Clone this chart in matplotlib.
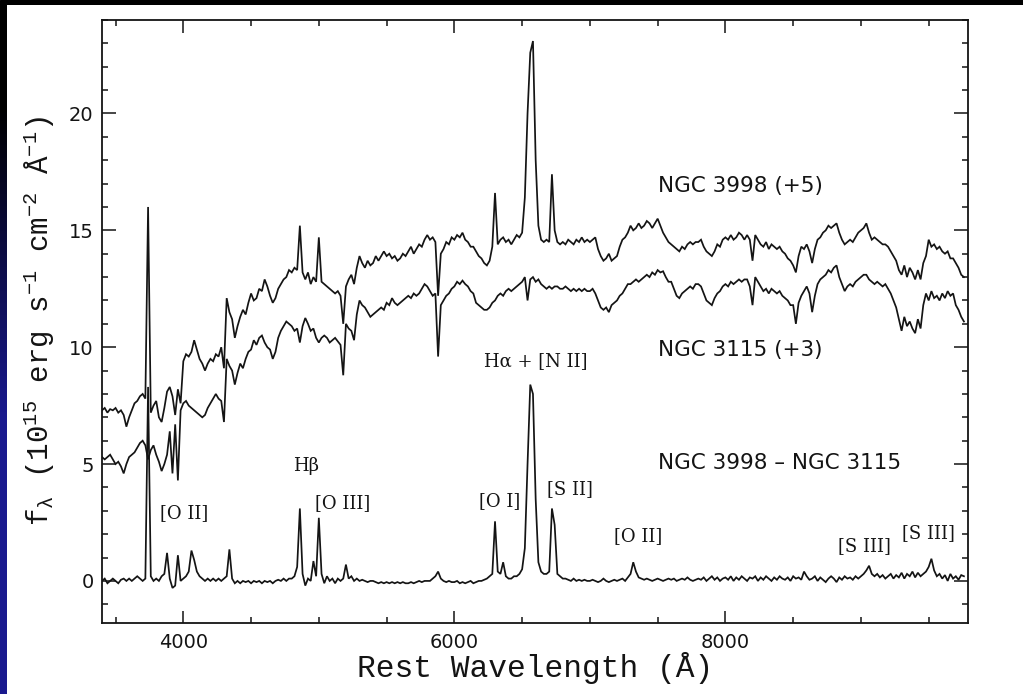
import numpy as np
import matplotlib
matplotlib.use("Agg")
import matplotlib.pyplot as plt
from matplotlib.ticker import FixedLocator, MultipleLocator

# ---------------- data ----------------
# common sampling grid of the spectra, 20 Angstrom steps
wavelength = np.arange(3400, 9761, 20)

ngc3998_plus5 = [
    7.3, 7.4, 7.2, 7.35, 7.3, 7.4, 7.2, 7.3, 7.1, 6.6,
    7.0, 7.3, 7.6, 7.7, 7.9, 8.0, 7.8, 16.0, 7.2, 7.5,
    7.7, 7.0, 6.8, 7.4, 8.1, 8.3, 7.9, 7.1, 8.2, 7.6,
    9.4, 9.7, 9.6, 9.8, 10.3, 9.9, 9.5, 9.3, 9.0, 9.3,
    9.5, 9.4, 9.7, 9.6, 10.0, 9.1, 12.1, 11.5, 11.2, 10.4,
    10.9, 11.3, 11.6, 11.4, 11.9, 12.3, 12.0, 12.1, 12.5, 12.4,
    12.9, 12.6, 12.2, 11.9, 12.1, 12.5, 12.7, 12.9, 13.0, 13.3,
    13.2, 13.4, 13.3, 15.2, 13.2, 12.9, 13.2, 12.7, 13.0, 12.8,
    14.7, 12.8, 12.7, 12.6, 12.5, 12.4, 12.3, 12.4, 12.2, 11.0,
    12.6, 12.9, 13.1, 12.7, 13.4, 13.9, 13.6, 13.4, 13.7, 13.5,
    13.6, 13.9, 13.7, 13.9, 14.1, 13.9, 14.0, 13.8, 13.9, 13.7,
    13.8, 14.0, 13.9, 14.1, 14.3, 14.0, 14.2, 14.4, 14.3, 14.6,
    14.8, 14.6, 14.7, 14.5, 12.2, 14.0, 14.2, 14.5, 14.4, 14.7,
    14.6, 14.8, 14.7, 14.9, 14.6, 14.5, 14.3, 14.3, 14.1, 13.9,
    13.8, 13.6, 13.5, 13.7, 14.3, 16.6, 14.4, 14.6, 14.7, 14.5,
    14.6, 14.4, 14.6, 14.8, 14.7, 14.9, 16.4, 20.0, 22.6, 23.1,
    18.0, 15.2, 14.6, 14.5, 14.6, 14.5, 17.4, 15.0, 14.5, 14.4,
    14.5, 14.4, 14.6, 14.5, 14.4, 14.6, 14.5, 14.7, 14.5, 14.6,
    14.5, 14.6, 14.7, 14.2, 13.9, 13.7, 13.8, 14.0, 13.7, 13.8,
    13.9, 14.3, 14.6, 14.7, 14.9, 15.2, 15.0, 15.1, 15.3, 15.1,
    15.2, 15.4, 15.3, 15.1, 15.3, 15.5, 15.2, 14.9, 14.7, 14.5,
    14.4, 14.3, 14.2, 14.1, 14.3, 14.2, 14.4, 14.5, 14.4, 14.5,
    14.5, 14.6, 14.3, 14.1, 14.0, 13.9, 14.1, 14.4, 14.3, 14.6,
    14.7, 14.6, 14.8, 14.6, 14.7, 14.9, 14.8, 14.6, 14.8, 14.6,
    13.7, 14.8, 14.6, 14.4, 14.3, 14.5, 14.2, 14.4, 14.3, 14.2,
    14.3, 14.1, 14.0, 13.8, 13.7, 13.5, 13.2, 13.9, 14.3, 14.2,
    14.4, 14.1, 13.6, 14.2, 14.6, 14.7, 14.9, 15.0, 15.2, 15.1,
    15.2, 15.3, 14.9, 14.6, 14.4, 14.5, 14.6, 14.5, 14.7, 14.9,
    15.0, 15.1, 15.3, 14.9, 14.6, 14.7, 14.6, 14.5, 14.4, 14.4,
    14.3, 14.1, 13.9, 13.7, 13.3, 13.1, 13.5, 13.0, 13.4, 13.2,
    12.9, 13.3, 12.9, 13.6, 13.9, 14.6, 14.3, 14.4, 14.2, 14.3,
    14.1, 14.0, 14.1, 13.8, 13.8, 13.6, 13.4, 13.1, 13.0,
]

ngc3115_plus3 = [
    5.3, 5.2, 5.3, 5.4, 5.2, 5.0, 5.1, 4.9, 4.6, 5.0,
    5.3, 5.4, 5.5, 5.7, 5.9, 6.0, 5.8, 5.2, 5.6, 5.8,
    5.4, 5.1, 4.7, 5.0, 5.4, 6.4, 4.6, 6.7, 4.3, 7.3,
    7.6, 7.7, 7.5, 7.4, 7.3, 7.2, 7.1, 7.0, 7.1, 7.4,
    7.6, 7.8, 8.0, 7.8, 7.7, 6.8, 9.5, 9.2, 9.0, 8.4,
    8.9, 9.3, 9.1, 9.5, 9.8, 9.9, 10.3, 10.1, 10.4, 10.5,
    10.2, 10.0, 9.9, 9.5, 9.8, 10.4, 10.7, 10.9, 11.1, 11.0,
    10.9, 10.7, 10.8, 10.2, 10.9, 11.25, 11.0, 10.7, 10.8, 10.4,
    10.2, 10.4, 10.5, 10.4, 10.2, 10.3, 10.4, 10.25, 10.1, 8.8,
    11.0, 10.8, 10.7, 10.3, 11.4, 12.0, 11.8, 11.7, 11.5, 11.3,
    11.4, 11.5, 11.6, 11.7, 11.6, 11.9, 11.8, 12.1, 11.9, 11.8,
    11.9, 12.0, 12.1, 12.2, 12.1, 12.3, 12.2, 12.3, 12.5, 12.7,
    12.6, 12.4, 12.2, 12.3, 9.6, 11.8, 12.0, 12.2, 12.3, 12.5,
    12.6, 12.8, 12.7, 12.85, 12.7, 12.6, 12.4, 12.3, 11.9, 11.8,
    11.7, 11.6, 11.6, 11.7, 11.9, 12.0, 12.2, 12.3, 12.2, 12.4,
    12.5, 12.4, 12.5, 12.6, 12.7, 12.8, 13.0, 12.0, 12.9, 13.0,
    12.8, 12.9, 12.7, 12.6, 12.5, 12.6, 12.5, 12.6, 12.6, 12.5,
    12.5, 12.6, 12.5, 12.4, 12.5, 12.4, 12.5, 12.4, 12.5, 12.4,
    12.4, 12.5, 12.3, 12.0, 11.7, 11.6, 11.7, 11.5, 11.8, 11.9,
    12.0, 12.2, 12.3, 12.5, 12.7, 12.7, 12.8, 12.9, 12.8, 12.9,
    13.0, 13.1, 13.0, 13.2, 13.1, 13.3, 13.2, 13.25, 13.0, 12.8,
    12.8, 12.5, 12.2, 12.1, 12.3, 12.4, 12.5, 12.6, 12.5, 12.7,
    12.7, 12.6, 12.3, 12.0, 11.9, 11.8, 12.1, 12.3, 12.4, 12.6,
    12.7, 12.6, 12.8, 12.7, 12.8, 12.9, 12.8, 12.9, 12.9, 12.6,
    11.8, 13.0, 12.8, 12.6, 12.4, 12.5, 12.3, 12.5, 12.4, 12.3,
    12.4, 12.2, 12.1, 12.0, 11.8, 11.8, 11.0, 11.9, 12.2, 12.4,
    12.6, 12.3, 11.5, 12.2, 12.7, 12.9, 13.0, 13.1, 13.3, 13.2,
    13.4, 13.5, 13.0, 12.7, 12.4, 12.6, 12.7, 12.6, 12.8, 12.9,
    13.0, 13.1, 13.1, 12.9, 12.8, 12.7, 12.8, 12.7, 12.6, 12.7,
    12.5, 12.3, 12.0, 11.7, 11.2, 10.7, 11.3, 10.9, 11.1, 10.8,
    10.6, 11.2, 10.8, 11.8, 12.3, 12.0, 12.4, 12.1, 12.2, 12.0,
    12.3, 12.1, 12.4, 12.2, 12.3, 11.8, 11.6, 11.3, 11.1,
]

difference = [
    0.0, 0.1, -0.1, 0.0, 0.1, 0.0, -0.1, 0.05, 0.1, 0.0,
    0.1, 0.0, 0.1, 0.2, 0.1, 0.0, 0.1, 8.3, 0.2, 0.0,
    0.1, 0.0, 0.2, 0.3, 1.2, 0.1, -0.3, -0.2, 1.1, 0.0,
    0.1, 0.2, 0.4, 1.3, 0.9, 0.4, 0.2, 0.1, 0.0, 0.1,
    0.0, 0.1, 0.0, 0.1, 0.0, 0.1, 0.2, 1.35, 0.1, -0.1,
    0.0, -0.1, 0.0, -0.05, 0.0, -0.1, 0.0, -0.05, 0.0, -0.1,
    0.0, -0.05, 0.0, -0.1, 0.0, 0.05, 0.0, 0.1, 0.0, 0.1,
    0.1, 0.2, 0.6, 3.1, 0.3, -0.2, 0.1, 0.0, 0.85, 0.2,
    2.7, 0.3, -0.1, 0.2, 0.0, 0.1, -0.1, 0.1, 0.0, 0.1,
    0.7, 0.1, 0.2, 0.0, 0.1, 0.0, 0.05, 0.0, -0.05, 0.0,
    0.0, -0.05, -0.1, -0.05, -0.1, -0.05, -0.1, -0.05, -0.1, -0.05,
    -0.1, -0.05, -0.1, -0.1, -0.05, -0.1, -0.05, 0.0, -0.05, 0.0,
    0.0, 0.0, 0.1, 0.2, 0.4, 0.1, 0.0, -0.05, 0.0, -0.05,
    -0.05, 0.0, -0.1, -0.05, -0.1, -0.05, 0.0, -0.1, -0.05, 0.0,
    0.0, 0.05, 0.1, 0.2, 0.3, 2.55, 0.4, 0.3, 0.8, 0.2,
    0.1, 0.1, 0.2, 0.2, 0.3, 0.5, 1.4, 5.0, 8.4, 8.0,
    3.5, 0.8, 0.4, 0.3, 0.3, 0.4, 3.1, 2.4, 0.3, 0.2,
    0.1, 0.1, 0.05, 0.0, 0.1, 0.0, 0.05, 0.0, 0.05, 0.0,
    0.0, 0.05, 0.0, -0.05, 0.0, 0.1, 0.0, -0.05, 0.0, 0.05,
    0.0, 0.05, 0.1, 0.0, 0.15, 0.3, 0.8, 0.4, 0.15, 0.1,
    0.05, 0.1, 0.05, 0.0, 0.05, 0.1, 0.05, 0.0, 0.05, 0.1,
    0.05, 0.1, 0.0, 0.05, 0.1, 0.05, 0.15, 0.05, 0.0, 0.05,
    0.1, 0.05, 0.15, 0.0, 0.1, 0.2, 0.05, 0.15, 0.0, 0.1,
    0.15, 0.05, 0.2, 0.0, 0.15, 0.05, 0.2, 0.1, 0.0, 0.15,
    0.1, 0.2, 0.0, 0.15, 0.05, 0.2, 0.1, 0.0, 0.15, 0.05,
    0.2, 0.1, 0.05, 0.15, 0.0, 0.2, 0.1, 0.15, 0.05, 0.4,
    0.2, 0.05, 0.1, 0.2, 0.0, 0.15, 0.05, -0.05, 0.1, 0.2,
    0.1, -0.05, 0.15, 0.05, 0.2, 0.1, 0.15, 0.05, 0.2, 0.1,
    0.2, 0.3, 0.45, 0.65, 0.3, 0.2, 0.3, 0.15, 0.25, 0.1,
    0.2, 0.3, 0.1, 0.25, 0.15, 0.35, 0.1, 0.3, 0.2, 0.4,
    0.15, 0.35, 0.2, 0.3, 0.4, 0.6, 0.95, 0.45, 0.2, 0.3,
    0.1, 0.25, 0.0, 0.3, 0.1, 0.2, 0.05, 0.25, 0.2,
]

series_labels = ["NGC 3998 (+5)", "NGC 3115 (+3)", "NGC 3998 \u2013 NGC 3115"]
line_labels = ["[O II]", "H\u03b2", "[O III]", "[O I]", "H\u03b1 + [N II]",
               "[S II]", "[O II]", "[S III]", "[S III]"]
x_ticks = [4000, 6000, 8000]
y_ticks = [0, 5, 10, 15, 20]
x_label = "Rest Wavelength (\u00c5)"
y_label = "f$_\\lambda$ (10$^{15}$ erg s$^{-1}$ cm$^{-2}$ \u00c5$^{-1}$)"

assert len(ngc3998_plus5) == len(wavelength) == len(ngc3115_plus3) == len(difference)

# ---------------- drawing ----------------
plt.rcParams["mathtext.fontset"] = "custom"
plt.rcParams["mathtext.rm"] = "Liberation Mono"
plt.rcParams["mathtext.it"] = "Liberation Mono"
plt.rcParams["mathtext.default"] = "rm"

W, H = 1023, 694
fig = plt.figure(figsize=(W / 100, H / 100), dpi=100, facecolor="white")

# slide decoration: black band at top, dark strip at left (black -> blue downwards)
top_band = fig.add_axes([0, 1 - 5 / H, 1, 5 / H])
top_band.set_axis_off()
top_band.add_patch(plt.Rectangle((0, 0), 1, 1, color="black", transform=top_band.transAxes))
strip = fig.add_axes([0, 0, 7 / W, 1 - 5 / H])
grad = np.linspace(0, 1, 256)
rgb = np.zeros((256, 1, 3))
amt = np.clip((grad - 0.15) / 0.45, 0, 1)
rgb[:, 0, 0] = 0.10 * amt
rgb[:, 0, 1] = 0.10 * amt
rgb[:, 0, 2] = 0.56 * amt
strip.imshow(rgb, aspect="auto", extent=[0, 1, 0, 1], origin="upper")
strip.set_axis_off()

ax = fig.add_axes([102 / W, 1 - 623 / H, 866 / W, 603 / H])
ink = "#141414"
for s in (ngc3998_plus5, ngc3115_plus3, difference):
    ax.plot(wavelength, s, color=ink, lw=1.25, solid_joinstyle="miter")

ax.set_xlim(3400, 9790)
ax.set_ylim(-1.8, 24)
ax.xaxis.set_major_locator(FixedLocator(x_ticks))
ax.yaxis.set_major_locator(FixedLocator(y_ticks))
ax.xaxis.set_minor_locator(MultipleLocator(500))
ax.yaxis.set_minor_locator(MultipleLocator(1))
ax.tick_params(which="both", direction="in", top=True, right=True, color=ink, width=1.1)
ax.tick_params(which="major", length=9)
ax.tick_params(which="minor", length=4.5)
ax.tick_params(axis="y", which="major", length=10, pad=6)
ax.tick_params(axis="x", which="major", pad=7)
for lab in ax.get_xticklabels() + ax.get_yticklabels():
    lab.set_fontfamily("DejaVu Sans")
    lab.set_fontsize(14)
    lab.set_color(ink)
for sp in ax.spines.values():
    sp.set_linewidth(1.3)
    sp.set_color(ink)

ax.set_xlabel(x_label, fontfamily="Liberation Mono", fontsize=22.5, color=ink)
ax.xaxis.set_label_coords(0.5, -0.075)
ax.xaxis.label.set_va("center")
ax.set_ylabel(y_label, fontfamily="Liberation Mono", fontsize=21, color=ink)
ax.yaxis.set_label_coords(-0.072, 0.5)
ax.yaxis.label.set_va("center")

# spectrum names
series_xy = [(7500, 16.9), (7500, 9.9), (7500, 5.04)]
for txt, (x, y) in zip(series_labels, series_xy):
    ax.text(x, y, txt, ha="left", va="center", fontfamily="DejaVu Sans",
            fontsize=15.5, color=ink)

# emission line names
line_xy = [(4009, 2.9), (4906, 4.9), (5179, 3.33), (6332, 3.4), (6604, 9.4),
           (6856, 3.93), (7357, 1.92), (9026, 1.5), (9495, 2.05)]
for txt, (x, y) in zip(line_labels, line_xy):
    ax.text(x, y, txt, ha="center", va="center", fontfamily="DejaVu Serif",
            fontsize=13, color=ink)

fig.savefig("out.png", dpi=100, facecolor="white")
